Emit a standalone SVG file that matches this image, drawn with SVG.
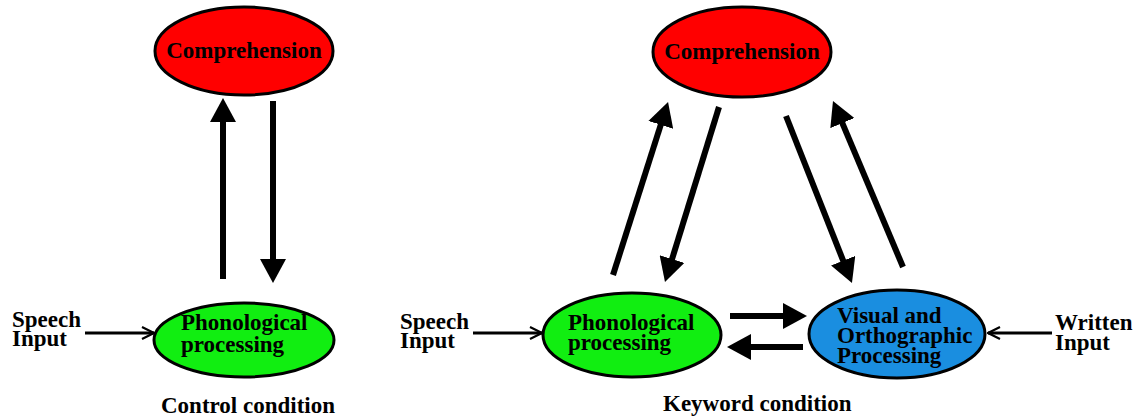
<svg xmlns="http://www.w3.org/2000/svg" width="1136" height="419" viewBox="0 0 1136 419">
<style>
.node{stroke:#000;stroke-width:3}
.t{font-family:'Liberation Serif','Times New Roman',Times,'DejaVu Serif',serif;font-weight:700;font-size:23px;fill:#000}
.thick{stroke:#000;stroke-width:6;fill:none}
.thin{stroke:#000;stroke-width:3;fill:none}
</style>
<defs>
<marker id="head" viewBox="0 0 24 26" refX="8" refY="13" markerWidth="24" markerHeight="26" markerUnits="userSpaceOnUse" orient="auto">
<path d="M0,0 L24,13 L0,26 Z" fill="#000"/>
</marker>
<marker id="open" viewBox="0 0 14 14" refX="13" refY="7" markerWidth="14" markerHeight="14" markerUnits="userSpaceOnUse" orient="auto">
<path d="M1,1 L13,7 L1,13" fill="none" stroke="#000" stroke-width="2.2"/>
</marker>
</defs>
<rect width="1136" height="419" fill="#fff"/>
<g id="connectors">
<line class="thick" x1="223" y1="279" x2="223" y2="114" marker-end="url(#head)"/>
<line class="thick" x1="273" y1="101" x2="273" y2="267" marker-end="url(#head)"/>
<line class="thick" x1="613" y1="275" x2="663.2" y2="117.2" marker-end="url(#head)"/>
<line class="thick" x1="719" y1="107" x2="669.7" y2="266.7" marker-end="url(#head)"/>
<line class="thick" x1="786" y1="116" x2="846.1" y2="268.1" marker-end="url(#head)"/>
<line class="thick" x1="903" y1="267" x2="839.2" y2="115.7" marker-end="url(#head)"/>
<line class="thick" x1="730" y1="316" x2="791" y2="316" marker-end="url(#head)"/>
<line class="thick" x1="803" y1="347" x2="743" y2="347" marker-end="url(#head)"/>
<line class="thin" x1="85" y1="333" x2="154" y2="333" marker-end="url(#open)"/>
<line class="thin" x1="473" y1="333" x2="542" y2="333" marker-end="url(#open)"/>
<line class="thin" x1="1052" y1="333" x2="988" y2="333" marker-end="url(#open)"/>
</g>
<g id="comprehension-left">
<ellipse class="node" cx="244" cy="51" rx="89" ry="44" fill="#ff0000"/>
<text class="t" x="244" y="58" text-anchor="middle" font-family="Liberation Serif">Comprehension</text>
</g>
<g id="phonological-left">
<ellipse class="node" cx="244" cy="340" rx="90" ry="37" fill="#11ee11"/>
<text class="t" x="181" y="330">Phonological</text>
<text class="t" x="181" y="352">processing</text>
</g>
<g id="speech-left">
<text class="t" x="12" y="327">Speech</text>
<text class="t" x="12" y="346">Input</text>
</g>
<g id="label-control">
<text class="t" x="161" y="413">Control condition</text>
</g>
<g id="comprehension-right">
<ellipse class="node" cx="742" cy="52" rx="89" ry="45" fill="#ff0000"/>
<text class="t" x="742" y="59" text-anchor="middle">Comprehension</text>
</g>
<g id="phonological-right">
<ellipse class="node" cx="632" cy="335" rx="89" ry="42" fill="#11ee11"/>
<text class="t" x="568" y="330">Phonological</text>
<text class="t" x="568" y="350">processing</text>
</g>
<g id="speech-right">
<text class="t" x="400" y="329">Speech</text>
<text class="t" x="400" y="348">Input</text>
</g>
<g id="visual">
<ellipse class="node" cx="897" cy="334" rx="88" ry="44" fill="#1a8ee0"/>
<text class="t" x="837" y="323">Visual and</text>
<text class="t" x="837" y="343">Orthographic</text>
<text class="t" x="837" y="363">Processing</text>
</g>
<g id="written">
<text class="t" x="1055" y="330">Written</text>
<text class="t" x="1055" y="350">Input</text>
</g>
<g id="label-keyword">
<text class="t" x="663" y="411">Keyword condition</text>
</g>
</svg>
